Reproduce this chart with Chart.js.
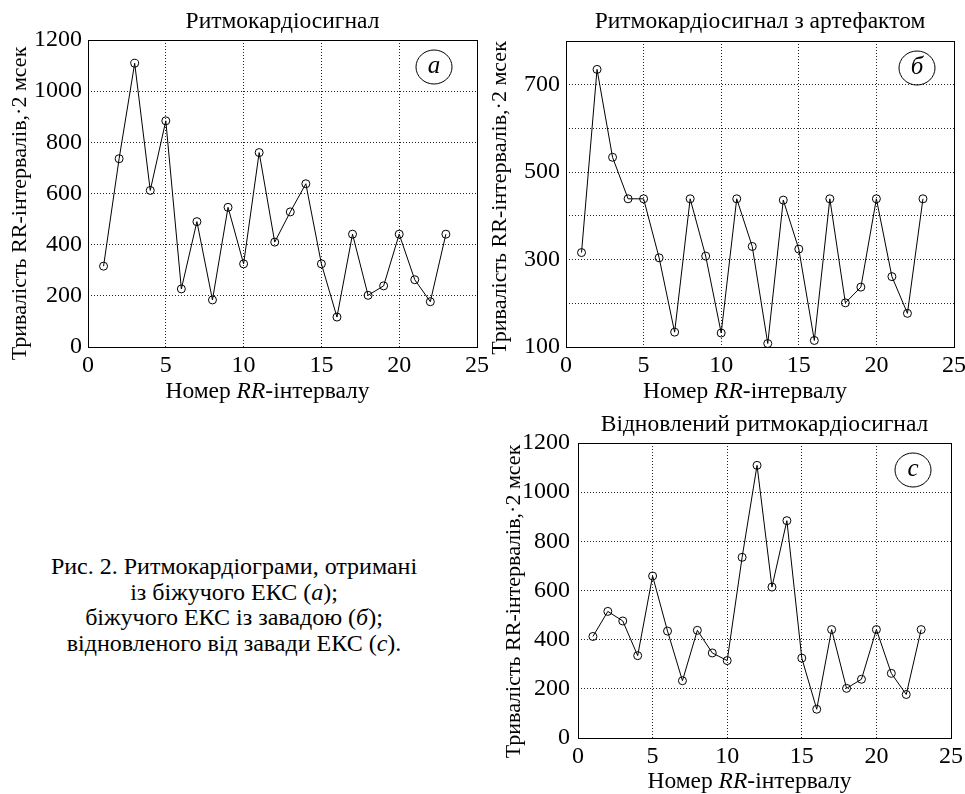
<!DOCTYPE html>
<html lang="uk">
<head>
<meta charset="utf-8">
<title>Ритмокардіограми</title>
<script src="https://cdn.jsdelivr.net/npm/chart.js@4.4.1/dist/chart.umd.min.js"></script>
<style>
  html, body { margin: 0; padding: 0; background: #fff; }
  body { width: 965px; height: 794px; position: relative; overflow: hidden; font-family: "Liberation Serif", "Times New Roman", serif; color: #000; }
  canvas { position: absolute; }
  #caption { position: absolute; left: 0; top: 554px; width: 468px; text-align: center; font-size: 24px; line-height: 25.7px; }
</style>
</head>
<body>
<canvas id="chartA" width="500" height="410" style="left:0;top:0"></canvas>
<canvas id="chartB" width="495" height="410" style="left:480px;top:0"></canvas>
<canvas id="chartC" width="495" height="394" style="left:480px;top:400px"></canvas>
<div id="caption">Рис. 2. Ритмокардіограми, отримані<br>із біжучого ЕКС (<i>а</i>);<br>біжучого ЕКС із завадою (<i>б</i>);<br>відновленого від завади ЕКС (<i>с</i>).</div>

<script>
var FONT = '"Liberation Serif", "Times New Roman", serif';
var TEXT_SIZE = 23.5;   // горизонтальні написи
var YTITLE_SIZE = 22;   // вертикальний підпис осі
var TICK_SIZE = 24;

// номер RR-інтервалу
var rrIndex = [1, 2, 3, 4, 5, 6, 7, 8, 9, 10, 11, 12, 13, 14, 15, 16, 17, 18, 19, 20, 21, 22, 23];

// (а) ритмокардіосигнал
var valuesA = [316, 736, 1109, 612, 884, 227, 490, 184, 546, 325, 760, 410, 528, 638, 325, 117, 441, 202, 239, 441, 263, 177, 441];
// (б) з артефактом
var valuesB = [316, 735, 534, 439, 439, 304, 134, 439, 308, 132, 439, 330, 108, 436, 324, 115, 439, 201, 237, 439, 261, 177, 439];
// (с) відновлений
var valuesC = [413, 515, 476, 335, 659, 435, 233, 438, 346, 315, 735, 1109, 614, 884, 325, 117, 441, 202, 239, 441, 263, 177, 441];

var xTicks = [0, 5, 10, 15, 20, 25];
var yTicksA = [0, 200, 400, 600, 800, 1000, 1200];
var yGridB = [100, 200, 300, 400, 500, 600, 700, 800];
var yLabelsB = [100, 300, 500, 700];
var yTicksC = [0, 200, 400, 600, 800, 1000, 1200];

var titleA = "Ритмокардіосигнал";
var titleB = "Ритмокардіосигнал з артефактом";
var titleC = "Відновлений ритмокардіосигнал";
var yTitle = "Тривалість RR-інтервалів,·2 мсек";
var xTitleParts = ["Номер ", "RR", "-інтервалу"];

// розміщення панелей (у пікселях канви)
var panels = [
  { id: "chartA", title: titleA, letter: "а", values: valuesA, yGrid: yTicksA, yLabels: yTicksA,
    titleMid: 22, plotTop: 40, padRight: 23, yWidth: 88, xHeight: 63, tickPad: 6,
    yTitleOff: 68, yTitleShift: 10, xTitleOff: 45, badgeDx: 43, badgeDy: 27 },
  { id: "chartB", title: titleB, letter: "б", values: valuesB, yGrid: yGridB, yLabels: yLabelsB,
    titleMid: 22, plotTop: 41, padRight: 21, yWidth: 86, xHeight: 63, tickPad: 6,
    yTitleOff: 66, yTitleShift: 4, xTitleOff: 45, badgeDx: 37, badgeDy: 27 },
  { id: "chartC", title: titleC, letter: "с", values: valuesC, yGrid: yTicksC, yLabels: yTicksC,
    titleMid: 25, plotTop: 43, padRight: 24, yWidth: 98, xHeight: 56, tickPad: 8,
    yTitleOff: 64, yTitleShift: 11, xTitleOff: 44, badgeDx: 38, badgeDy: 27 }
];
var X_TITLE_SHIFT = -15;  // назва осі x трохи лівіше центру

// рамка, підписи осей та кружечок з літерою
var decor = {
  id: "decor",
  beforeDatasetsDraw: function (chart) {
    var ctx = chart.ctx, a = chart.chartArea;
    ctx.save();
    ctx.strokeStyle = "#000";
    ctx.lineWidth = 1;
    var l = Math.round(a.left), t = Math.round(a.top);
    ctx.strokeRect(l + 0.5, t + 0.5, Math.round(a.right) - l, Math.round(a.bottom) - t);
    ctx.restore();
  },
  afterDraw: function (chart, args, o) {
    var ctx = chart.ctx, a = chart.chartArea;
    ctx.save();
    ctx.fillStyle = "#000";
    ctx.textBaseline = "middle";

    // назва осі x, RR курсивом
    var fonts = [TEXT_SIZE + "px " + FONT, "italic " + TEXT_SIZE + "px " + FONT, TEXT_SIZE + "px " + FONT];
    var widths = xTitleParts.map(function (s, i) { ctx.font = fonts[i]; return ctx.measureText(s).width; });
    var total = widths[0] + widths[1] + widths[2];
    var x = (a.left + a.right) / 2 - total / 2 + X_TITLE_SHIFT;
    var y = a.bottom + o.xTitleOff;
    ctx.textAlign = "left";
    for (var i = 0; i < 3; i++) {
      ctx.font = fonts[i];
      ctx.fillText(xTitleParts[i], x, y);
      x += widths[i];
    }

    // назва осі y
    ctx.save();
    ctx.translate(a.left - o.yTitleOff, (a.top + a.bottom) / 2 + o.yTitleShift);
    ctx.rotate(-Math.PI / 2);
    ctx.textAlign = "center";
    ctx.font = YTITLE_SIZE + "px " + FONT;
    ctx.fillText(yTitle, 0, 0);
    ctx.restore();

    // літера в кружечку
    var cx = a.right - o.badgeDx, cy = a.top + o.badgeDy;
    ctx.beginPath();
    ctx.ellipse(cx, cy, 18, 17, 0, 0, Math.PI * 2);
    ctx.lineWidth = 1;
    ctx.strokeStyle = "#000";
    ctx.stroke();
    ctx.textAlign = "center";
    ctx.font = "italic 25px " + FONT;
    ctx.fillText(o.letter, cx, cy - 1);
    ctx.restore();
  }
};

function makeChart(p) {
  var points = rrIndex.map(function (n, i) { return { x: n, y: p.values[i] }; });
  var gridOpts = { color: "#222", lineWidth: 1, drawTicks: false };
  var borderOpts = { display: false, dash: [1, 2] };
  var padTop = p.titleMid - TEXT_SIZE / 2;
  var titleGap = p.plotTop - p.titleMid - TEXT_SIZE / 2;

  return new Chart(document.getElementById(p.id), {
    type: "line",
    data: {
      datasets: [{
        data: points,
        borderColor: "#000",
        borderWidth: 1,
        tension: 0,
        pointRadius: 4,
        pointBorderWidth: 1,
        pointBorderColor: "#000",
        pointBackgroundColor: "rgba(0,0,0,0)",
        clip: false
      }]
    },
    options: {
      responsive: false,
      animation: false,
      events: [],
      layout: { padding: { top: padTop, right: p.padRight, left: 0, bottom: 0 } },
      plugins: {
        legend: { display: false },
        tooltip: { enabled: false },
        title: {
          display: true,
          text: p.title,
          fullSize: false,
          color: "#000",
          font: { family: FONT, size: TEXT_SIZE, weight: "normal", lineHeight: 1 },
          padding: { top: 0, bottom: titleGap }
        },
        decor: {
          letter: p.letter, xTitleOff: p.xTitleOff, yTitleOff: p.yTitleOff,
          yTitleShift: p.yTitleShift, badgeDx: p.badgeDx, badgeDy: p.badgeDy
        }
      },
      scales: {
        x: {
          type: "linear",
          min: 0,
          max: 25,
          afterBuildTicks: function (s) { s.ticks = xTicks.map(function (v) { return { value: v }; }); },
          afterFit: function (s) { s.height = p.xHeight; },
          grid: gridOpts,
          border: borderOpts,
          ticks: {
            color: "#000",
            padding: 4,
            maxRotation: 0,
            font: { family: FONT, size: TICK_SIZE, lineHeight: 1.2 },
            callback: function (v) { return String(v); }
          }
        },
        y: {
          min: p.yGrid[0],
          max: p.yGrid[p.yGrid.length - 1],
          afterBuildTicks: function (s) { s.ticks = p.yGrid.map(function (v) { return { value: v }; }); },
          afterFit: function (s) { s.width = p.yWidth; },
          grid: gridOpts,
          border: borderOpts,
          ticks: {
            color: "#000",
            padding: p.tickPad,
            font: { family: FONT, size: TICK_SIZE, lineHeight: 1.2 },
            callback: function (v) { return p.yLabels.indexOf(v) >= 0 ? String(v) : ""; }
          }
        }
      }
    },
    plugins: [decor]
  });
}

panels.forEach(makeChart);
</script>
</body>
</html>
